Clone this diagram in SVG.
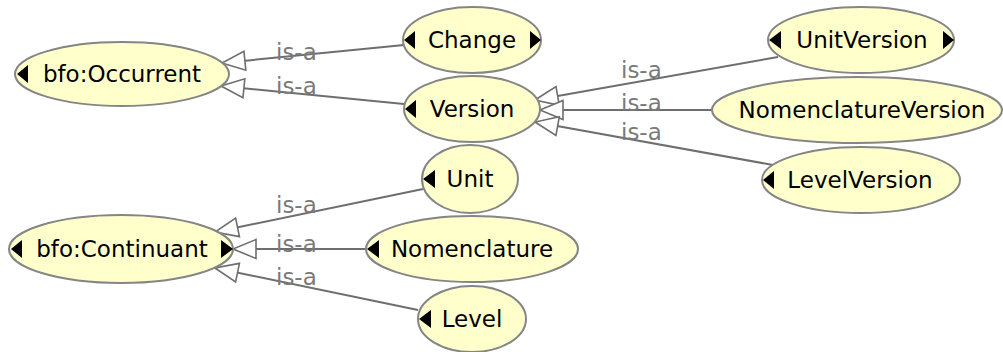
<svg xmlns="http://www.w3.org/2000/svg" width="1003" height="352" viewBox="0 0 1003 352">
<style>
.node ellipse{fill:#ffffcc;stroke:#858585;stroke-width:2}
.node text{font-family:"DejaVu Sans",Verdana,sans-serif;font-size:23px;fill:#000;text-anchor:middle}
.tri{fill:#000}
.edge{stroke:#6e6e6e;stroke-width:2;fill:none;marker-end:url(#hollow)}
.lbl{font-family:"DejaVu Sans",Verdana,sans-serif;font-size:23px;fill:#7a7a7a}
</style>
<defs>
<marker id="hollow" markerUnits="userSpaceOnUse" viewBox="-26 -12 28 24" markerWidth="28" markerHeight="24" refX="0" refY="0" orient="auto">
<path d="M0,0 L-23,-9.5 L-23,9.5 Z" fill="#fff" stroke="#6e6e6e" stroke-width="1.6"/>
</marker>
</defs>
<rect width="1003" height="352" fill="#fff"/>
<g id="connectors">
<line class="edge" x1="404" y1="45" x2="222" y2="63"/>
<line class="edge" x1="404" y1="104" x2="221" y2="86"/>
<line class="edge" x1="778" y1="57" x2="535" y2="100"/>
<line class="edge" x1="712" y1="110" x2="540" y2="110"/>
<line class="edge" x1="773" y1="165" x2="535" y2="122"/>
<line class="edge" x1="423" y1="189" x2="215" y2="232"/>
<line class="edge" x1="366" y1="249" x2="233" y2="249"/>
<line class="edge" x1="418" y1="310" x2="215" y2="268"/>
<text class="lbl" x="276" y="60">is-a</text>
<text class="lbl" x="276" y="94">is-a</text>
<text class="lbl" x="621" y="78">is-a</text>
<text class="lbl" x="621" y="111">is-a</text>
<text class="lbl" x="621" y="140">is-a</text>
<text class="lbl" x="276" y="213">is-a</text>
<text class="lbl" x="276" y="252">is-a</text>
<text class="lbl" x="276" y="285">is-a</text>
</g>
<g id="bfo-occurrent" class="node">
<ellipse cx="122" cy="74" rx="107" ry="32"/>
<path class="tri" d="M17,74 L28,65 L28,83 Z"/>
<text x="122" y="82">bfo:Occurrent</text>
</g>
<g id="change" class="node">
<ellipse cx="472" cy="40" rx="69" ry="33"/>
<path class="tri" d="M404,40 L415,31 L415,49 Z"/>
<path class="tri" d="M541,40 L530,31 L530,49 Z"/>
<text x="472" y="48">Change</text>
</g>
<g id="version" class="node">
<ellipse cx="472" cy="109" rx="68" ry="33"/>
<path class="tri" d="M405,109 L416,100 L416,118 Z"/>
<text x="472" y="117">Version</text>
</g>
<g id="unitversion" class="node">
<ellipse cx="861" cy="40" rx="93" ry="33"/>
<path class="tri" d="M769,40 L781,31 L781,49 Z"/>
<path class="tri" d="M954,40 L943,31 L943,49 Z"/>
<text x="862" y="48">UnitVersion</text>
</g>
<g id="nomenclatureversion" class="node">
<ellipse cx="857" cy="110" rx="145" ry="33"/>
<text x="862" y="118">NomenclatureVersion</text>
</g>
<g id="levelversion" class="node">
<ellipse cx="861" cy="180" rx="99" ry="33"/>
<path class="tri" d="M763,180 L774,171 L774,189 Z"/>
<text x="860" y="188">LevelVersion</text>
</g>
<g id="bfo-continuant" class="node">
<ellipse cx="121" cy="249" rx="112" ry="34"/>
<path class="tri" d="M11,249 L22,240 L22,258 Z"/>
<path class="tri" d="M233,249 L221,240 L221,258 Z"/>
<text x="122" y="257">bfo:Continuant</text>
</g>
<g id="unit" class="node">
<ellipse cx="470" cy="179" rx="48" ry="34"/>
<path class="tri" d="M423,179 L435,170 L435,188 Z"/>
<text x="470" y="187">Unit</text>
</g>
<g id="nomenclature" class="node">
<ellipse cx="472" cy="249" rx="106" ry="33"/>
<path class="tri" d="M367,249 L379,240 L379,258 Z"/>
<text x="472" y="257">Nomenclature</text>
</g>
<g id="level" class="node">
<ellipse cx="472" cy="319" rx="54" ry="33"/>
<path class="tri" d="M419,319 L431,310 L431,328 Z"/>
<text x="472" y="327">Level</text>
</g>
</svg>
